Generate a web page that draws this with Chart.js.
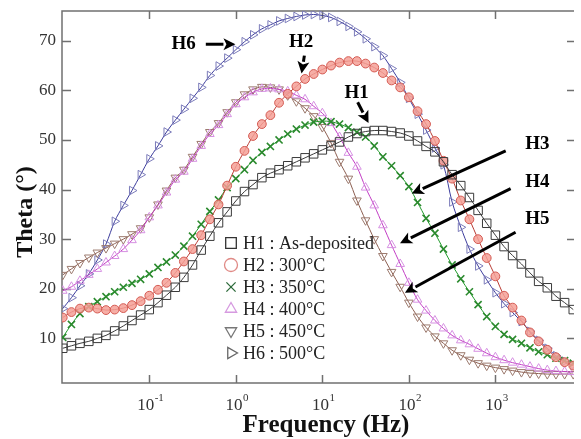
<!DOCTYPE html>
<html>
<head>
<meta charset="utf-8">
<script src="https://cdn.jsdelivr.net/npm/chart.js@4.4.1/dist/chart.umd.min.js"></script>
<style>
  html, body { margin: 0; padding: 0; background: #fff; }
  canvas { display: block; }
</style>
</head>
<body>
<canvas id="thetaChart" width="581" height="439"></canvas>
<script>
/************** DATA **************/
const freq = [
  0.01, 0.0126, 0.0158, 0.02, 0.0251, 0.0316, 0.0398, 0.0501, 0.0631, 0.0794,
  0.1, 0.126, 0.158, 0.2, 0.251, 0.316, 0.398, 0.501, 0.631, 0.794,
  1, 1.26, 1.58, 2, 2.51, 3.16, 3.98, 5.01, 6.31, 7.94,
  10, 12.6, 15.8, 20, 25.1, 31.6, 39.8, 50.1, 63.1, 79.4,
  100, 126, 158, 200, 251, 316, 398, 501, 631, 794,
  1000, 1260, 1580, 2000, 2510, 3160, 3980, 5010, 6310, 7940
];

const h1 = [
  8.0, 8.5, 9.0, 9.4, 10.0, 10.6, 11.5, 12.5, 13.6, 14.7,
  15.8, 17.2, 18.7, 20.3, 22.3, 24.8, 27.8, 30.6, 33.3, 35.5,
  37.7, 39.6, 41.0, 42.4, 43.3, 44.0, 44.8, 45.6, 46.4, 47.2,
  48.0, 48.8, 49.6, 50.6, 51.3, 51.7, 51.9, 51.9, 51.7, 51.4,
  50.8, 49.8, 48.7, 47.6, 45.6, 43.0, 40.8, 38.4, 35.8, 33.2,
  30.8, 28.5, 26.7, 25.0, 23.2, 21.5, 20.2, 18.5, 17.2, 15.8
];
const h2 = [
  14.2, 15.3, 16.0, 16.2, 16.0, 15.7, 15.8, 16.1, 16.7, 17.5,
  18.6, 19.8, 21.2, 23.2, 25.5, 28.0, 30.8, 34.0, 37.0, 40.8,
  44.6, 47.8, 50.8, 53.2, 55.0, 57.5, 59.3, 60.8, 62.3, 63.3,
  64.2, 65.0, 65.6, 65.9, 65.9, 65.4, 64.6, 63.5, 62.0, 60.6,
  58.6, 55.8, 53.2, 49.8, 45.8, 42.2, 37.8, 34.0, 30.0, 26.2,
  22.5, 18.6, 16.2, 13.6, 11.2, 9.4, 7.7, 6.2, 5.2, 4.5
];
const h3 = [
  10.2, 12.8, 15.0, 16.4, 17.4, 18.4, 19.4, 20.3, 21.1, 21.9,
  23.0, 24.3, 25.4, 26.8, 28.6, 30.6, 33.0, 35.6, 37.9, 40.4,
  42.2, 44.0, 45.9, 47.5, 48.7, 50.0, 51.2, 52.2, 53.0, 53.6,
  53.8, 53.7, 53.2, 52.5, 51.6, 50.6, 48.8, 46.6, 44.8, 42.8,
  40.6, 37.4, 34.2, 31.2, 28.0, 24.8, 22.0, 19.4, 16.8, 14.4,
  12.4, 10.8, 9.8, 9.0, 8.1, 7.3, 6.7, 6.0, 5.5, 5.0
];
const h4 = [
  19.6, 20.4, 21.6, 22.8, 24.0, 25.3, 26.6, 28.0, 29.8, 31.8,
  34.4, 36.8, 39.4, 42.0, 43.6, 46.2, 48.8, 51.2, 53.0, 55.2,
  57.2, 58.6, 59.6, 60.3, 60.4, 60.2, 59.8, 59.0, 58.2, 56.8,
  55.4, 53.4, 50.6, 47.4, 44.6, 40.4, 36.8, 32.8, 28.8, 25.0,
  21.2, 17.8, 15.6, 13.6, 12.0, 10.6, 9.6, 8.8, 7.9, 7.0,
  6.2, 5.6, 5.1, 4.7, 4.3, 3.9, 3.6, 3.4, 3.3, 3.2
];
const h5 = [
  22.8, 24.0, 25.2, 26.3, 27.3, 28.2, 29.1, 30.0, 31.0, 32.2,
  34.4, 37.0, 39.8, 42.4, 44.0, 46.6, 49.2, 51.6, 53.4, 55.6,
  57.6, 59.2, 60.2, 60.7, 60.6, 60.2, 59.0, 57.8, 56.4, 54.8,
  52.6, 49.4, 45.6, 42.2, 37.8, 33.8, 30.0, 26.6, 23.4, 20.4,
  17.2, 14.4, 12.2, 10.4, 9.0, 7.6, 6.6, 5.7, 5.0, 4.5,
  4.1, 3.8, 3.5, 3.2, 3.0, 2.9, 2.8, 2.8, 2.8, 2.8
];
const h6 = [
  16.0, 18.2, 20.6, 23.0, 25.8, 29.0, 33.6, 36.8, 39.8, 43.0,
  46.2, 48.8, 51.6, 54.0, 56.2, 58.4, 60.6, 63.0, 64.9, 66.5,
  68.2, 69.8, 71.2, 72.4, 73.2, 74.0, 74.5, 74.9, 75.2, 75.3,
  75.1, 74.7, 73.9, 72.9, 71.8, 70.4, 68.8, 67.0, 64.4, 61.6,
  58.4, 55.2, 52.0, 48.4, 45.0, 37.5, 32.4, 28.0, 24.6, 21.8,
  19.2, 17.0, 15.2, 13.4, 11.4, 9.6, 8.0, 6.5, 5.4, 4.6
];

const seriesValues = [h1, h2, h3, h4, h5, h6];
const legendLabels = [
  "H1 : As-deposited", "H2 : 300°C", "H3 : 350°C",
  "H4 : 400°C", "H5 : 450°C", "H6 : 500°C"
];

const xTickValues = [0.1, 1, 10, 100, 1000];
const xTickExps = ["-1", "0", "1", "2", "3"];
const yTickValues = [10, 20, 30, 40, 50, 60, 70];

const xTitle = "Frequency (Hz)";
const yTitle = "Theta (°)";

// curve tags and arrows (data units)
const tagNames = ["H6", "H2", "H1", "H3", "H4", "H5"];
const tagAt = [[0.25, 69.3], [5.7, 69.7], [24.9, 59.4], [3050, 49.2], [3050, 41.6], [3050, 34.0]];
const arrowFrom = [[0.45, 69.3], [6.2, 67.0], [25.6, 57.6], [1315, 47.8], [1500, 40.2], [1710, 31.4]];
const arrowTo = [[0.99, 69.3], [5.75, 63.4], [34.2, 53.4], [108, 39.2], [79, 29.2], [90, 19.2]];

/************** STYLES **************/
const SERIF = '"Liberation Serif", "Times New Roman", serif';

const styles = [
  { line: "#3a3a3a", mark: "#3a3a3a", fill: "rgba(0,0,0,0)", shape: "rect", rot: 0, r: 6, bw: 1, legMark: "#333" },
  { line: "#b83a32", mark: "#d45a52", fill: "rgba(244,160,150,0.85)", shape: "circle", rot: 0, r: 4.4, bw: 1, legMark: "#e08a86" },
  { line: "#1f9a2a", mark: "#2b8a2e", fill: "rgba(0,0,0,0)", shape: "crossRot", rot: 0, r: 5, bw: 1.6, legMark: "#2c6a3a" },
  { line: "#c23cc4", mark: "#d690e2", fill: "rgba(0,0,0,0)", shape: "triangle", rot: 0, r: 5, bw: 1, legMark: "#d69ae0" },
  { line: "#8c5e50", mark: "#9c7a6e", fill: "rgba(0,0,0,0)", shape: "triangle", rot: 180, r: 5, bw: 1, legMark: "#777" },
  { line: "#3c3c9c", mark: "#7c7cba", fill: "rgba(0,0,0,0)", shape: "triangle", rot: 90, r: 5, bw: 1, legMark: "#666" }
];

/************** PLUGINS **************/
function drawArrow(ctx, x1, y1, x2, y2) {
  const a = Math.atan2(y2 - y1, x2 - x1);
  const hl = 12, hw = 6;
  const bx = x2 - hl * Math.cos(a), by = y2 - hl * Math.sin(a);
  ctx.beginPath();
  ctx.moveTo(x1, y1);
  ctx.lineTo(bx, by);
  ctx.stroke();
  ctx.beginPath();
  ctx.moveTo(x2, y2);
  ctx.lineTo(bx + hw * Math.sin(a), by - hw * Math.cos(a));
  ctx.lineTo(bx + 3 * Math.cos(a), by + 3 * Math.sin(a));
  ctx.lineTo(bx - hw * Math.sin(a), by + hw * Math.cos(a));
  ctx.closePath();
  ctx.fill();
}

const framePlugin = {
  id: "frame",
  beforeDatasetsDraw(chart) {
    const { ctx, chartArea: ca } = chart;
    const xs = chart.scales.x, ys = chart.scales.y;
    ctx.save();
    ctx.strokeStyle = "#707070";
    ctx.lineWidth = 1.5;
    ctx.beginPath();
    ctx.moveTo(ca.right, ca.top);
    ctx.lineTo(ca.left, ca.top);
    ctx.lineTo(ca.left, ca.bottom);
    ctx.lineTo(ca.right, ca.bottom);
    ctx.stroke();

    ctx.beginPath();
    xTickValues.forEach(v => {
      const px = Math.round(xs.getPixelForValue(v)) + 0.5;
      ctx.moveTo(px, ca.bottom); ctx.lineTo(px, ca.bottom - 8);
      ctx.moveTo(px, ca.top); ctx.lineTo(px, ca.top + 8);
    });
    yTickValues.forEach(v => {
      const py = Math.round(ys.getPixelForValue(v)) + 0.5;
      ctx.moveTo(ca.left, py); ctx.lineTo(ca.left + 9, py);
      ctx.moveTo(ca.right, py); ctx.lineTo(ca.right - 7, py);
    });
    ctx.stroke();

    // x tick labels 10^n
    ctx.fillStyle = "#333";
    ctx.textBaseline = "alphabetic";
    ctx.textAlign = "left";
    xTickValues.forEach((v, i) => {
      const px = xs.getPixelForValue(v);
      ctx.font = "17px " + SERIF;
      const w1 = ctx.measureText("10").width;
      ctx.font = "11px " + SERIF;
      const w2 = ctx.measureText(xTickExps[i]).width;
      const x0 = px - (w1 + w2) / 2 + 1;
      ctx.font = "17px " + SERIF;
      ctx.fillText("10", x0, 410);
      ctx.font = "11px " + SERIF;
      ctx.fillText(xTickExps[i], x0 + w1 + 0.5, 401);
    });

    // axis titles
    ctx.fillStyle = "#111";
    ctx.font = "bold 25px " + SERIF;
    ctx.textAlign = "center";
    ctx.fillText(xTitle, 326, 432);
    ctx.save();
    ctx.translate(32, 212);
    ctx.rotate(-Math.PI / 2);
    ctx.font = "bold 24px " + SERIF;
    ctx.fillText(yTitle, 0, 0);
    ctx.restore();
    ctx.restore();
  },
  afterDraw(chart) {
    const { ctx } = chart;
    const xs = chart.scales.x, ys = chart.scales.y;
    ctx.save();
    // legend inside plot
    legendLabels.forEach((t, i) => {
      const st = styles[i];
      const y = 243 + i * 22;
      ctx.strokeStyle = st.legMark;
      ctx.fillStyle = "rgba(0,0,0,0)";
      ctx.lineWidth = 1.3;
      Chart.helpers.drawPoint(ctx, { pointStyle: st.shape, rotation: st.rot, radius: st.shape === "rect" ? 7.5 : 6.5, borderWidth: 1.3 }, 231, y);
      ctx.fillStyle = "#222";
      ctx.font = "18px " + SERIF;
      ctx.textBaseline = "middle";
      ctx.textAlign = "left";
      ctx.fillText(t, 243, y + 1);
    });

    // curve tags with arrows
    ctx.fillStyle = "#000";
    ctx.strokeStyle = "#000";
    ctx.lineWidth = 3;
    ctx.font = "bold 19px " + SERIF;
    ctx.textAlign = "center";
    ctx.textBaseline = "middle";
    tagNames.forEach((n, i) => {
      ctx.fillText(n, xs.getPixelForValue(tagAt[i][0]), ys.getPixelForValue(tagAt[i][1]));
      drawArrow(ctx,
        xs.getPixelForValue(arrowFrom[i][0]), ys.getPixelForValue(arrowFrom[i][1]),
        xs.getPixelForValue(arrowTo[i][0]), ys.getPixelForValue(arrowTo[i][1]));
    });
    ctx.restore();
  }
};

/************** CHART **************/
const datasets = seriesValues.map((vals, i) => {
  const st = styles[i];
  return {
    label: legendLabels[i],
    data: vals.map((v, k) => ({ x: freq[k], y: v })),
    borderColor: st.line,
    borderWidth: 1,
    tension: 0.3,
    pointStyle: st.shape,
    pointRotation: st.rot,
    pointRadius: st.r,
    pointBorderWidth: st.bw,
    pointBorderColor: st.mark,
    pointBackgroundColor: st.fill
  };
});

const ctx = document.getElementById("thetaChart").getContext("2d");

new Chart(ctx, {
  type: "line",
  data: { datasets },
  options: {
    responsive: false,
    animation: false,
    devicePixelRatio: 1,
    layout: { padding: { top: 11, right: 0, left: 0, bottom: 0 } },
    plugins: {
      legend: { display: false },
      tooltip: { enabled: false }
    },
    scales: {
      x: {
        type: "logarithmic",
        min: 0.0098,
        max: 8100,
        grid: { display: false, drawTicks: false },
        border: { display: false },
        ticks: { display: false },
        afterFit: s => { s.height = 56; s.paddingLeft = 0; s.paddingRight = 0; }
      },
      y: {
        type: "linear",
        min: 1,
        max: 76,
        grid: { display: false, drawTicks: false },
        border: { display: false },
        afterBuildTicks: s => { s.ticks = yTickValues.map(v => ({ value: v })); },
        ticks: {
          color: "#333",
          padding: 6,
          font: { family: SERIF, size: 17 }
        },
        afterFit: s => { s.width = 62; s.paddingTop = 0; s.paddingBottom = 0; }
      }
    }
  },
  plugins: [framePlugin]
});
</script>
</body>
</html>
